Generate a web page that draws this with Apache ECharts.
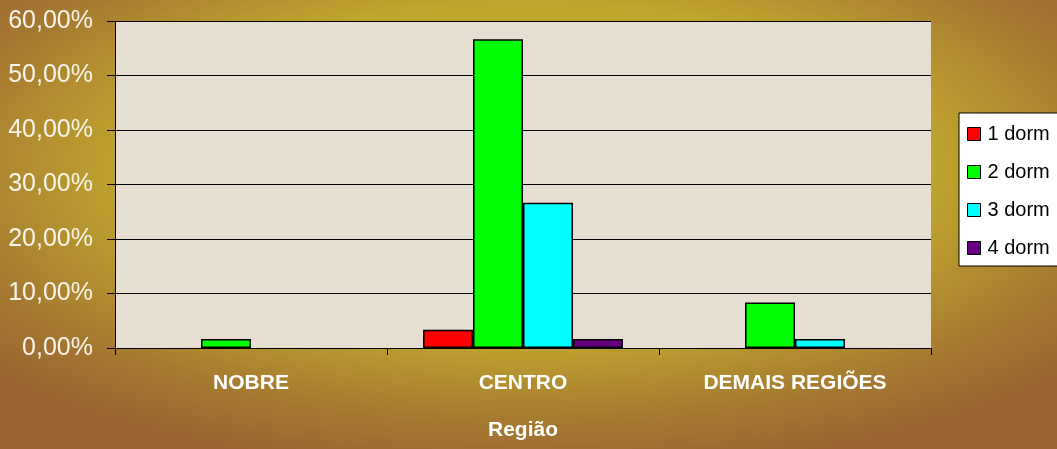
<!DOCTYPE html>
<html><head><meta charset="utf-8">
<script src="https://cdn.jsdelivr.net/npm/echarts@6/dist/echarts.min.js"></script>
<style>html,body{margin:0;padding:0;}#c{width:1057px;height:449px;}</style>
</head><body><div id="c"></div>
<script>
const categories = ['NOBRE', 'CENTRO', 'DEMAIS REGIÕES'];
const seriesNames = ['1 dorm', '2 dorm', '3 dorm', '4 dorm'];
const dorm1 = [0, 3.33, 0];
const dorm2 = [1.67, 56.67, 8.33];
const dorm3 = [0, 26.67, 1.67];
const dorm4 = [0, 1.67, 0];
const yTicks = [0, 10, 20, 30, 40, 50, 60];
const colors = ['#ff0000', '#00ff00', '#00ffff', '#660080'];

const chart = echarts.init(document.getElementById('c'));
const data = [dorm1, dorm2, dorm3, dorm4];
const W = 1057, H = 449;
chart.setOption({
  backgroundColor: '#9a6532',
  animation: false,
  graphic: [{
    type: 'rect', z: -10, silent: true,
    shape: {x: 0, y: 0, width: H, height: H},
    scaleX: W / H, x: 0, y: 0,
    style: {fill: {
      type: 'radial', x: 0.5, y: 0.38, r: 0.68,
      colorStops: [
        {offset: 0, color: '#c4ae2c'},
        {offset: 0.55, color: '#bfa52e'},
        {offset: 0.82, color: '#a67a30'},
        {offset: 1, color: '#9a6532'}
      ]
    }}
  }],
  grid: {left: 115, right: 126, top: 21, bottom: 101, show: true, backgroundColor: '#e5ded1', borderWidth: 0},
  legend: {
    orient: 'vertical', left: 959, top: 113,
    backgroundColor: '#ffffff', borderColor: '#000', borderWidth: 1,
    padding: [11, 12, 8, 8], itemGap: 18, itemWidth: 13, itemHeight: 13,
    icon: 'rect',
    itemStyle: {borderColor: '#000', borderWidth: 1},
    textStyle: {fontFamily: 'Liberation Sans, Arial', fontSize: 20, lineHeight: 20, color: '#000', padding: [0, 0, 0, 2]},
    data: seriesNames
  },
  xAxis: {
    type: 'category', data: categories,
    name: 'Região', nameLocation: 'middle', nameGap: 72,
    nameTextStyle: {color: '#fff', fontFamily: 'Liberation Sans, Arial', fontSize: 21, fontWeight: 'bold'},
    axisLine: {lineStyle: {color: '#000', width: 1}},
    axisTick: {show: true, length: 7, lineStyle: {color: '#000'}},
    axisLabel: {color: '#fff', fontFamily: 'Liberation Sans, Arial', fontWeight: 'bold', fontSize: 21, margin: 25}
  },
  yAxis: {
    type: 'value', min: yTicks[0], max: yTicks[yTicks.length - 1], interval: 10,
    axisLine: {show: true, lineStyle: {color: '#000'}},
    axisTick: {show: true, length: 8, lineStyle: {color: '#000'}},
    splitLine: {lineStyle: {color: '#000', width: 1}},
    axisLabel: {color: '#f8f4ec', fontFamily: 'Liberation Sans, Arial', fontSize: 25, margin: 22,
      formatter: v => v.toFixed(2).replace('.', ',') + '%'}
  },
  series: seriesNames.map((n, i) => ({
    name: n, type: 'bar', data: data[i].map(v => v === 0 ? '-' : v),
    barGap: '0%', barCategoryGap: '26.5%',
    itemStyle: {color: colors[i], borderColor: '#000', borderWidth: 1.5}
  }))
});
</script></body></html>
